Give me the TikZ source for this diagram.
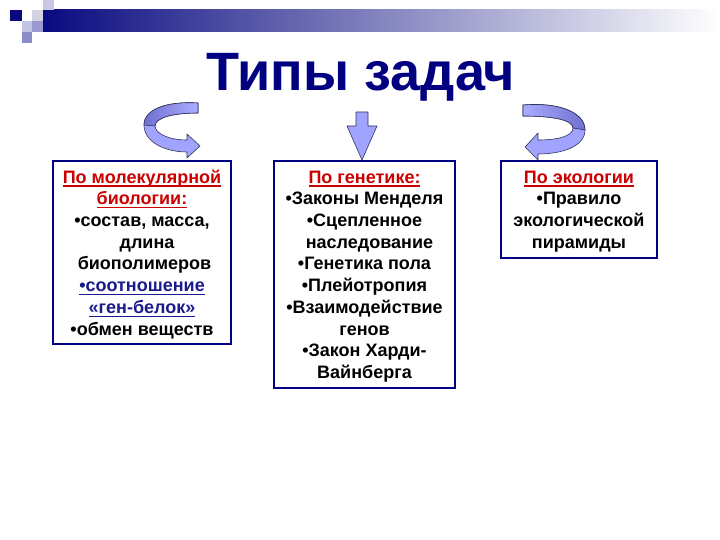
\documentclass[tikz,border=0pt]{standalone}
\usepackage{fontspec}
\setmainfont{Liberation Sans}
\newsavebox{\ulxbox}
\newcommand{\ulx}[1]{\sbox{\ulxbox}{#1}\rlap{\vrule width\wd\ulxbox height -2.2pt depth 3.6pt}\usebox{\ulxbox}}
\definecolor{navy}{HTML}{000080}
\definecolor{dred}{HTML}{CC0000}
\definecolor{ulblue}{HTML}{1A1A8C}
\definecolor{arrowfill}{HTML}{A0A4FF}
\definecolor{arrowdark}{HTML}{7070D0}
\definecolor{arrowline}{HTML}{33335A}
\definecolor{sqA}{HTML}{0A0A80}
\definecolor{sqB}{HTML}{C8C8E6}
\definecolor{sqC}{HTML}{D2D2E2}
\definecolor{sqD}{HTML}{C4C4E4}
\definecolor{sqE}{HTML}{8C8CC8}
\definecolor{sqF}{HTML}{9A9AD0}
\begin{document}
\begin{tikzpicture}[x=1pt,y=-1pt,
  box/.style={draw=navy,line width=2pt,fill=white,inner sep=0pt},
  boxtext/.style={anchor=north,inner sep=0pt,align=center,
    font=\bfseries\fontsize{18}{21.7}\selectfont},
  arrowshape/.style={fill=arrowfill,draw=arrowline,line width=0.6pt,line join=round},
  backshape/.style={left color=arrowdark,right color=arrowfill!90!white,draw=arrowline,line width=0.6pt,line join=round}]
\useasboundingbox (0,0) rectangle (720,540);
\fill[white] (0,0) rectangle (720,540);
% header bar and squares
\shade[left color=sqA,right color=white] (43,10) rectangle (720,32);
\fill[sqA] (10,10) rectangle (22,21);
\fill[sqB] (43,0) rectangle (54,10);
\fill[sqC] (32,10) rectangle (43,21);
\fill[sqF] (32,21) rectangle (43,32);
\fill[sqD] (22,21) rectangle (32,32);
\fill[sqE] (22,32) rectangle (32,43);
% title
\node[font=\bfseries\fontsize{54}{60}\selectfont,text=navy,inner sep=0pt] (title) at (361,77) {Типы задач};
% boxes
\node[box,minimum width=178pt,minimum height=183pt] (mol) at (142,252.5) {};
\node[box,minimum width=181pt,minimum height=227pt] (gen) at (364.5,274.5) {};
\node[box,minimum width=156pt,minimum height=97pt] (eco) at (579,209.5) {};
% box texts
\node[boxtext] (molt) at (142,167.8) {\strut\textcolor{dred}{\ulx{По молекулярной}}\\
\textcolor{dred}{\ulx{биологии:}}\\
•состав, масса,\\
\ \ длина\\
\ биополимеров\\
\textcolor{ulblue}{\ulx{•соотношение}}\\
\textcolor{ulblue}{\ulx{«ген-белок»}}\\
•обмен веществ};
\node[boxtext] (gent) at (364.5,167.8) {\strut\textcolor{dred}{\ulx{По генетике:}}\\
•Законы Менделя\\
•Сцепленное\\
\ \ наследование\\
•Генетика пола\\
•Плейотропия\\
•Взаимодействие\\
генов\\
•Закон Харди-\\
Вайнберга};
\node[boxtext] (ecot) at (579,167.8) {\strut\textcolor{dred}{\ulx{По экологии}}\\
•Правило\\
экологической\\
пирамиды};
% middle arrow
\draw[arrowshape] (356,112) -- (368,112) -- (368,126) -- (377,126) -- (362,160) -- (347,126) -- (356,126) -- cycle;
% left curved arrow
\draw[arrowshape] (198,103) .. controls (165,101) and (144,110) .. (144,125)
  .. controls (144,142) and (165,152) .. (187,152) -- (187,158) -- (200,146) -- (187,134) -- (187,140)
  .. controls (168,140) and (155,133) .. (155,126)
  .. controls (155,118) and (172,113) .. (198,113) -- cycle;
\draw[backshape] (198,103) .. controls (165,101) and (144,110) .. (144,125)
  -- (155,126) .. controls (155,118) and (172,113) .. (198,113) -- cycle;
% right curved arrow
\draw[arrowshape] (523,105) .. controls (558,102) and (585,112) .. (585,130)
  .. controls (585,146) and (563,154) .. (538,154) -- (538,160) -- (525,147) -- (538,133) -- (538,140)
  .. controls (558,140) and (573,136) .. (573,128)
  .. controls (573,120) and (553,116) .. (523,116) -- cycle;
\draw[backshape,left color=arrowfill!90!white,right color=arrowdark] (523,105) .. controls (558,102) and (585,112) .. (585,130)
  -- (573,128) .. controls (573,120) and (553,116) .. (523,116) -- cycle;
\end{tikzpicture}
\end{document}
